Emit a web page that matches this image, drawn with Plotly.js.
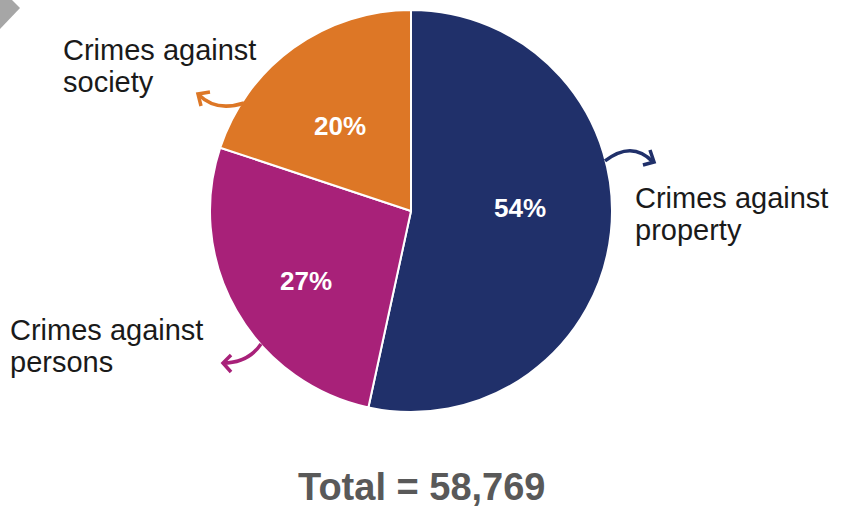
<!DOCTYPE html>
<html><head><meta charset="utf-8">
<script src="https://cdn.plot.ly/plotly-3.0.1.min.js"></script>
<style>body{margin:0;background:#fff}#chart{width:845px;height:508px}</style>
</head><body><div id="chart"></div>
<script>
const categories = ["Crimes against property", "Crimes against persons", "Crimes against society"];
const labelLine1 = ["Crimes against", "Crimes against", "Crimes against"];
const labelLine2 = ["property", "persons", "society"];
const shares = [53.4, 26.7, 19.9];
const pctLabels = ["54%", "27%", "20%"];
const totalLabel = "Total = 58,769";
const colors = ["#20306A", "#A82179", "#DD7726"];

// layout / style (pixels)
const W = 845, H = 508;
const CX = 411, CY = 211, R = 201;
const labelPos = [[633, 208], [8, 340], [61, 60]];    // left x, first-line reference y
const pctR = [0.54, 0.63, 0.55];                      // label radius fraction
const pctDA = [-7.5, -4, -4];                         // label angle nudge (deg)

const px = x => x / W;
const py = y => 1 - y / H;
function p(pts) {
  return pts.map(s => s[0] + ' ' + s.slice(1).map((v, i) => i % 2 === 0 ? px(v).toFixed(4) : py(v).toFixed(4)).join(',')).join(' ');
}
function arrow(pathPts, color) {
  return {type: 'path', xref: 'paper', yref: 'paper', path: p(pathPts),
          line: {color: color, width: 3.5}, fillcolor: 'rgba(0,0,0,0)'};
}
const shapes = [
  {type: 'path', xref: 'paper', yref: 'paper', path: p([['M',0,0],['L',12,0],['L',20,8],['L',0,29]]) + ' Z',
   fillcolor: '#A6A6A6', line: {width: 0}},
  arrow([['M',244,103],['Q',216,112,199,95]], colors[2]),
  arrow([['M',210,92],['L',198,94],['L',201,106]], colors[2]),
  arrow([['M',605,161],['Q',632,140,653,162]], colors[0]),
  arrow([['M',650,150],['L',654,162],['L',643,165]], colors[0]),
  arrow([['M',261,344],['Q',248,363,223,363]], colors[1]),
  arrow([['M',231,355],['L',223,363],['L',231,372]], colors[1])
];

const FAM = 'Liberation Sans, Arial, sans-serif';
const lblFont = {family: FAM, size: 29, color: '#1A1A1A'};
const annotations = [];
categories.forEach((c, i) => {
  const [lx, by] = labelPos[i];
  [labelLine1[i], labelLine2[i]].forEach((t, k) => {
    annotations.push({x: px(lx), y: py(by + 32 * k - 10), xref: 'paper', yref: 'paper',
      xanchor: 'left', yanchor: 'middle', align: 'left', text: t, showarrow: false, font: lblFont});
  });
});
// percentage labels placed along each slice's bisector, computed from the shares
const tot = shares.reduce((a, b) => a + b, 0);
let cum = 0;
shares.forEach((v, i) => {
  const mid = (cum + v / 2) / tot * 360 + pctDA[i];
  cum += v;
  const a = mid * Math.PI / 180;
  const x = CX + pctR[i] * R * Math.sin(a);
  const y = CY - pctR[i] * R * Math.cos(a);
  annotations.push({x: px(x), y: py(y), xref: 'paper', yref: 'paper', xanchor: 'center', yanchor: 'middle',
    text: '<b>' + pctLabels[i] + '</b>', showarrow: false, font: {family: FAM, size: 26, color: '#FFFFFF'}});
});
annotations.push({x: px(421), y: py(487), xref: 'paper', yref: 'paper', xanchor: 'center', yanchor: 'middle',
  text: '<b>' + totalLabel + '</b>', showarrow: false, font: {family: FAM, size: 38, color: '#595959'}});

const trace = {
  type: 'pie', labels: categories, values: shares,
  sort: false, direction: 'clockwise', rotation: 0,
  marker: {colors: colors, line: {color: '#FFFFFF', width: 2}},
  textinfo: 'none', hoverinfo: 'label+percent',
  domain: {x: [(CX - R) / W, (CX + R) / W], y: [1 - (CY + R) / H, 1 - (CY - R) / H]}
};

Plotly.newPlot('chart', [trace], {
  width: W, height: H, margin: {l: 0, r: 0, t: 0, b: 0},
  paper_bgcolor: '#FFFFFF', showlegend: false,
  shapes: shapes, annotations: annotations
}, {displayModeBar: false, staticPlot: true});
</script></body></html>
